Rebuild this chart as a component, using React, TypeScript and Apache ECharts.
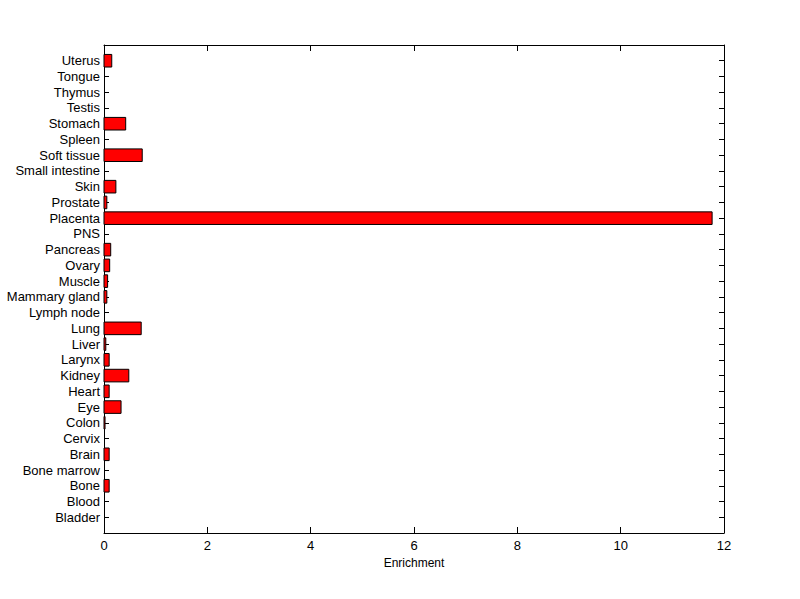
import React, { useEffect, useRef } from "react";
import * as echarts from "echarts";

const categories = [
  "Bladder", "Blood", "Bone", "Bone marrow", "Brain", "Cervix", "Colon", "Eye",
  "Heart", "Kidney", "Larynx", "Liver", "Lung", "Lymph node", "Mammary gland",
  "Muscle", "Ovary", "Pancreas", "PNS", "Placenta", "Prostate", "Skin",
  "Small intestine", "Soft tissue", "Spleen", "Stomach", "Testis", "Thymus",
  "Tongue", "Uterus",
];

const enrichment = [
  0, 0, 0.1, 0, 0.1, 0, 0.02, 0.33,
  0.1, 0.48, 0.1, 0.035, 0.72, 0, 0.055,
  0.07, 0.11, 0.13, 0, 11.77, 0.055, 0.23,
  0, 0.74, 0, 0.42, 0, 0,
  0, 0.15,
];

const xTicks = { min: 0, max: 12, interval: 2 };
const xLabel = "Enrichment";

export default function App() {
  const ref = useRef<HTMLDivElement>(null);
  useEffect(() => {
    if (!ref.current) return;
    const chart = echarts.init(ref.current, null, { renderer: "svg" });
    const font = "Arial, 'Liberation Sans', sans-serif";
    const data = enrichment.map((v, i) => [v, i + 1]);
    const line = { show: true, onZero: false, lineStyle: { color: "#000", width: 1 } };
    const tickX = { show: true, inside: true, length: 6, lineStyle: { color: "#000", width: 1 } };
    const tickY = { show: true, inside: true, length: 5, lineStyle: { color: "#000", width: 1 } };
    chart.setOption({
      animation: false,
      backgroundColor: "#ffffff",
      grid: { left: 104, right: 76, top: 45, bottom: 66, containLabel: false },
      xAxis: [
        {
          type: "value",
          position: "bottom",
          min: xTicks.min,
          max: xTicks.max,
          interval: xTicks.interval,
          name: xLabel,
          nameLocation: "middle",
          nameGap: 24,
          nameTextStyle: { color: "#000", fontFamily: font, fontSize: 12 },
          axisLine: line,
          axisTick: tickX,
          axisLabel: { color: "#000", fontFamily: font, fontSize: 13, margin: 6 },
          splitLine: { show: false },
        },
        {
          type: "value",
          position: "top",
          min: xTicks.min,
          max: xTicks.max,
          interval: xTicks.interval,
          axisLine: line,
          axisTick: tickX,
          axisLabel: { show: false },
          splitLine: { show: false },
        },
      ],
      yAxis: [
        {
          type: "value",
          position: "left",
          min: 0,
          max: categories.length + 1,
          interval: 1,
          axisLine: line,
          axisTick: tickY,
          axisLabel: {
            color: "#000",
            fontFamily: font,
            fontSize: 13,
            margin: 4,
            formatter: (v: number) => categories[v - 1] ?? "",
          },
          splitLine: { show: false },
        },
        {
          type: "value",
          position: "right",
          min: 0,
          max: categories.length + 1,
          interval: 1,
          axisLine: line,
          axisTick: tickY,
          axisLabel: { show: false },
          splitLine: { show: false },
        },
      ],
      series: [
        {
          type: "custom",
          xAxisIndex: 0,
          yAxisIndex: 0,
          data,
          encode: { x: 0, y: 1 },
          renderItem: (params: any, api: any) => {
            const v = api.value(0);
            const y = api.value(1);
            if (!v) return null;
            const s = api.coord([0, y]);
            const e = api.coord([v, y]);
            const h = api.size([0, 0.8])[1];
            return {
              type: "rect",
              shape: { x: s[0], y: s[1] - h / 2, width: e[0] - s[0], height: h },
              style: { fill: "#ff0000", stroke: "#000000", lineWidth: 1 },
            };
          },
        },
      ],
    });
    return () => chart.dispose();
  }, []);
  return (
    <div
      ref={ref}
      style={{ position: "fixed", left: 0, top: 0, width: 800, height: 599, background: "#fff" }}
    />
  );
}
